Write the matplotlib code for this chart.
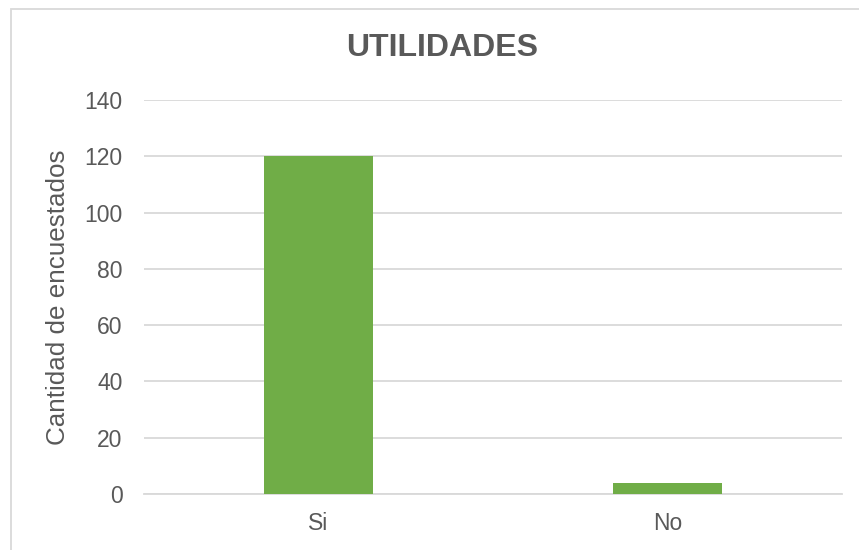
import matplotlib
matplotlib.use("Agg")
import matplotlib.pyplot as plt
from matplotlib.patches import Rectangle

categories = ["Si", "No"]
values = [120, 4]
yticks = [0, 20, 40, 60, 80, 100, 120, 140]
title = "UTILIDADES"
ylabel = "Cantidad de encuestados"

plt.rcParams['font.family'] = ['Liberation Sans', 'DejaVu Sans']
W, H = 859, 550
fig = plt.figure(figsize=(W/100, H/100), dpi=100)
fig.patches.append(Rectangle((11/W, -0.1), 1.2, 1 - 9/H + 0.1, transform=fig.transFigure,
                             fill=False, edgecolor="#D9D9D9", linewidth=1.3))
ax = fig.add_axes([144/W, 1 - 494/H, (842-144)/W, (494-100)/H])
x = list(range(len(categories)))
ax.bar(x, values, width=0.312, color="#70AD47", zorder=3)
ax.set_xlim(-0.5, 1.5)
ax.set_ylim(0, 140)
ax.set_yticks(yticks)
ax.set_xticks(x)
ax.set_xticklabels(categories)
ax.grid(axis="y", color="#D9D9D9", linewidth=1.3, zorder=0)
for s in ["top", "right", "left"]:
    ax.spines[s].set_visible(False)
ax.spines["bottom"].set_color("#D9D9D9")
ax.spines["bottom"].set_linewidth(1.3)
ax.tick_params(length=0, labelsize=16.5, colors="#595959")
ax.tick_params(axis="y", pad=15.5)
ax.tick_params(axis="x", pad=13)
ax.set_ylabel(ylabel, fontsize=18.7, color="#595959", labelpad=10)
fig.text(442/W, 1 - 47.5/H, title, ha="center", va="center",
         fontsize=23, fontweight="bold", color="#595959")
fig.savefig("out.png", dpi=100)
